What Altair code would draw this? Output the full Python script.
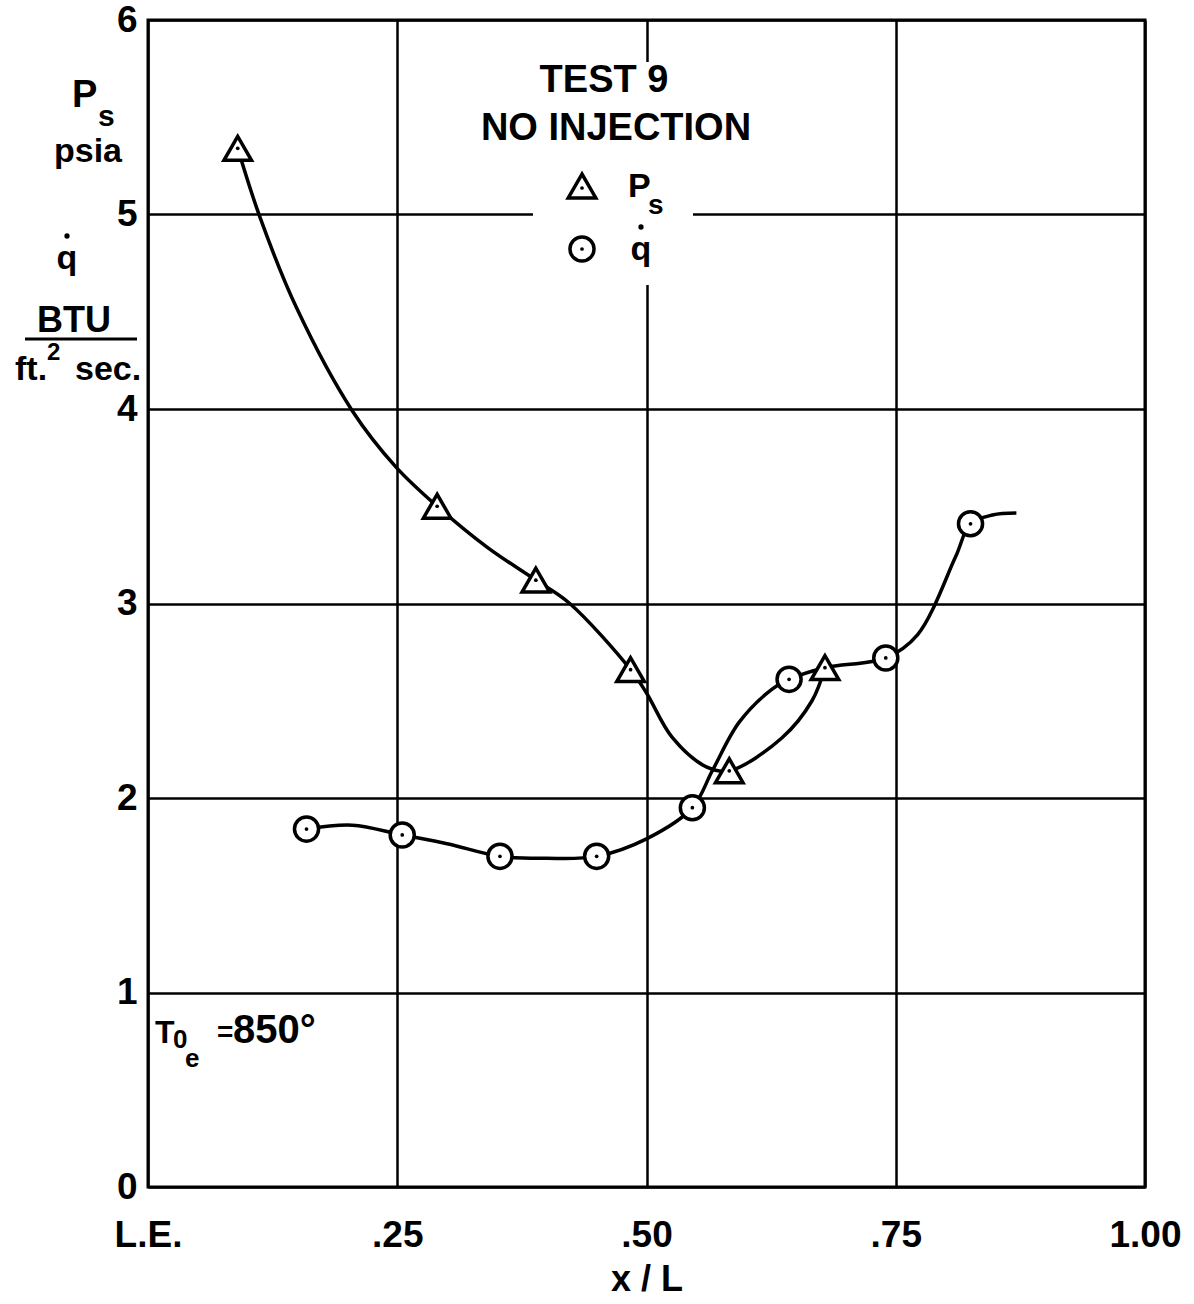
import altair as alt
import pandas as pd

# ---- data ----
ps_x = [0.09, 0.29, 0.389, 0.484, 0.583, 0.679]
ps_y = [5.34, 3.50, 3.12, 2.66, 2.14, 2.67]

q_x = [0.159, 0.255, 0.353, 0.450, 0.546, 0.643, 0.740, 0.825]
q_y = [1.84, 1.81, 1.70, 1.70, 1.95, 2.61, 2.72, 3.41]

# faired curves as drawn
ps_curve_x = [0.09, 0.112, 0.149, 0.205, 0.249, 0.29, 0.34, 0.389, 0.423,
              0.484, 0.50, 0.526, 0.560, 0.583, 0.636, 0.666, 0.679]
ps_curve_y = [5.34, 4.99, 4.52, 3.99, 3.70, 3.50, 3.29, 3.12, 3.00,
              2.66, 2.54, 2.31, 2.16, 2.14, 2.31, 2.50, 2.67]

q_curve_x = [0.159, 0.205, 0.255, 0.30, 0.353, 0.40, 0.450, 0.50, 0.546, 0.566,
             0.593, 0.626, 0.643, 0.679, 0.740, 0.772, 0.81, 0.825, 0.847, 0.871]
q_curve_y = [1.84, 1.86, 1.81, 1.765, 1.70, 1.69, 1.70, 1.79, 1.95, 2.14,
             2.39, 2.56, 2.61, 2.67, 2.72, 2.84, 3.24, 3.41, 3.455, 3.465]

x_ticks = [0, 0.25, 0.5, 0.75, 1.0]
x_tick_labels = ["L.E.", ".25", ".50", ".75", "1.00"]
y_ticks = [0, 1, 2, 3, 4, 5, 6]

FONT = "Liberation Sans"

ps_df = pd.DataFrame({"x": ps_x, "y": ps_y})
q_df = pd.DataFrame({"x": q_x, "y": q_y})
ps_curve = pd.DataFrame({"x": ps_curve_x, "y": ps_curve_y})
q_curve = pd.DataFrame({"x": q_curve_x, "y": q_curve_y})
one = pd.DataFrame({"k": [0]})

label_expr = " : ".join(
    f"datum.value == {v} ? '{t}'" for v, t in zip(x_ticks, x_tick_labels)
) + " : ''"

xs = alt.Scale(domain=[0, 1], nice=False, zero=False)
ys = alt.Scale(domain=[0, 6], nice=False)

X = alt.X("x:Q", scale=xs, axis=alt.Axis(
    values=x_ticks, labelExpr=label_expr, title="x / L", grid=True,
    ticks=False, domain=False, labelFlush=False, labelPadding=30,
    titlePadding=9))
Y = alt.Y("y:Q", scale=ys, axis=alt.Axis(
    values=y_ticks, title=None, grid=True, ticks=False, domain=False,
    labelPadding=11))

lines = alt.Chart(ps_curve).mark_line(
    interpolate="catmull-rom", color="black", strokeWidth=3.5
).encode(x=X, y=Y, order="x:Q")
qlines = alt.Chart(q_curve).mark_line(
    interpolate="catmull-rom", color="black", strokeWidth=3.5
).encode(x=X, y=Y, order="x:Q")

tri = alt.Chart(ps_df).mark_point(
    shape="triangle-up", size=760, filled=True, fill="white",
    stroke="black", strokeWidth=3.5, opacity=1
).encode(x=X, y=Y)
circ = alt.Chart(q_df).mark_point(
    shape="circle", size=580, filled=True, fill="white",
    stroke="black", strokeWidth=3.5, opacity=1
).encode(x=X, y=Y)
dots_t = alt.Chart(ps_df).mark_point(
    shape="circle", size=14, filled=True, color="black", opacity=1
).encode(x=X, y=Y)
dots_c = alt.Chart(q_df).mark_point(
    shape="circle", size=14, filled=True, color="black", opacity=1
).encode(x=X, y=Y)


def txt(t, x, y, size, align="left"):
    return alt.Chart(one).mark_text(
        text=t, font=FONT, fontWeight="bold", fontSize=size, align=align,
        baseline="alphabetic", color="black"
    ).encode(x=alt.value(x), y=alt.value(y))


def sym(shape, x, y, size, fill="white", sw=3.5):
    return alt.Chart(one).mark_point(
        shape=shape, size=size, filled=True, fill=fill, stroke="black",
        strokeWidth=sw, opacity=1
    ).encode(x=alt.value(x), y=alt.value(y))


# legend box (white background breaking the grid)
legend_bg = alt.Chart(one).mark_rect(color="white").encode(
    x=alt.value(385), x2=alt.value(545), y=alt.value(42), y2=alt.value(265))

legend = [
    legend_bg,
    txt("TEST  9", 456, 72, 38, "center"),
    txt("NO INJECTION", 468, 120, 38, "center"),
    sym("triangle-up", 434, 166, 760),
    sym("circle", 434, 168, 14, fill="black", sw=0),
    txt("P", 480, 177, 34),
    txt("s", 500, 194, 28),
    sym("circle", 434, 229, 580),
    sym("circle", 434, 229, 14, fill="black", sw=0),
    txt("q", 493, 240, 34, "center"),
    sym("circle", 493, 207, 28, fill="black", sw=0),
]

# y-axis label block (left of plot)
ylab = [
    txt("P", -76, 87, 38),
    txt("s", -50, 106, 30),
    txt("psia", -60, 142, 34, "center"),
    txt("q", -81, 249, 34, "center"),
    sym("circle", -81, 216, 28, fill="black", sw=0),
    txt("BTU", -74, 312, 36, "center"),
    alt.Chart(one).mark_rule(color="black", strokeWidth=3).encode(
        x=alt.value(-123), x2=alt.value(-11), y=alt.value(319)),
    txt("ft.", -133, 360, 34),
    txt("2", -101, 340, 24),
    txt("sec.", -73, 360, 34),
]

# temperature annotation
temp = [
    txt("T", 7, 1023, 32),
    txt("0", 25, 1028, 26),
    txt("e", 37, 1047, 26),
    txt("=", 69, 1021, 28),
    txt("850°", 85, 1023, 40),
]

chart = alt.layer(
    lines, qlines, tri, circ, dots_t, dots_c, *legend, *ylab, *temp
).properties(
    width=997, height=1167,
    autosize=alt.AutoSizeParams(type="none"),
    padding={"left": 148, "top": 20, "right": 49, "bottom": 117},
).configure_view(
    stroke="black", strokeWidth=3
).configure_axis(
    gridColor="black", gridWidth=2.5, gridOpacity=1,
    labelFont=FONT, labelFontWeight="bold", labelFontSize=37,
    labelColor="black", titleFont=FONT, titleFontWeight="bold",
    titleFontSize=36, titleColor="black"
)

chart.save("out.html", embed_options={"renderer": "svg", "actions": False})
